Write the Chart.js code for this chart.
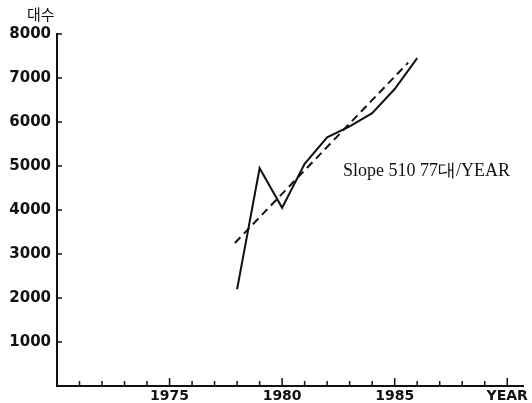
<!DOCTYPE html>
<html>
<head>
<meta charset="utf-8">
<script src="https://cdn.jsdelivr.net/npm/chart.js@4.4.1/dist/chart.umd.min.js"></script>
<style>
  html, body { margin: 0; padding: 0; background: #fff; }
  canvas { display: block; }
</style>
</head>
<body>
<canvas id="carChart" width="532" height="403"></canvas>
<script>
// data
const years = [1978, 1979, 1980, 1981, 1982, 1983, 1984, 1985, 1986];
const units = [2200, 4950, 4050, 5050, 5650, 5900, 6200, 6750, 7450];

// fitted trend line, end points
const trendYears = [1977.9, 1985.6];
const trendUnits = [3250, 7350];

const yTicks = [1000, 2000, 3000, 4000, 5000, 6000, 7000, 8000];
const xLabelYears = [1975, 1980, 1985];
const yAxisTitle = '대수';
const xAxisTitle = 'YEAR';
const slopeNote = 'Slope 510 77대/YEAR';

// little tick marks pointing into the plot + the text notes
const decorations = {
    id: 'decorations',
    afterDraw(chart) {
        const c = chart.ctx;
        const x = chart.scales.x, y = chart.scales.y;
        c.save();
        c.strokeStyle = '#111';
        c.lineWidth = 1.5;
        c.beginPath();
        for (let yr = 1971; yr <= 1990; yr++) {
            const px = x.getPixelForValue(yr);
            const len = yr % 5 === 0 ? 8 : 5;
            c.moveTo(px, y.bottom);
            c.lineTo(px, y.bottom - len);
        }
        yTicks.forEach(v => {
            const py = y.getPixelForValue(v);
            c.moveTo(x.left, py);
            c.lineTo(x.left + 5, py);
        });
        c.stroke();

        c.fillStyle = '#111';
        c.textBaseline = 'middle';
        c.textAlign = 'left';
        c.font = '15px "Noto Sans CJK KR"';
        c.fillText(yAxisTitle, 27, 14);
        c.font = '18px "Liberation Serif"';
        c.fillText(slopeNote, 343, 171);
        c.restore();
    }
};

const ctx = document.getElementById('carChart').getContext('2d');

let carChart = new Chart(ctx, {
    type: 'line',
    data: {
        datasets: [{
            data: years.map((yr, i) => ({ x: yr, y: units[i] })),
            borderColor: '#111',
            borderWidth: 2,
            pointRadius: 0,
            tension: 0
        }, {
            data: trendYears.map((yr, i) => ({ x: yr, y: trendUnits[i] })),
            borderColor: '#111',
            borderWidth: 2,
            borderDash: [8, 5],
            pointRadius: 0
        }]
    },
    options: {
        responsive: false,
        animation: false,
        layout: { padding: { top: 34, right: 9, left: 0, bottom: 0 } },
        plugins: {
            legend: { display: false },
            tooltip: { enabled: false }
        },
        scales: {
            x: {
                type: 'linear',
                min: 1970,
                max: 1990.7,
                afterFit: s => { s.height = 17; },
                afterBuildTicks: s => {
                    const t = [];
                    for (let yr = 1970; yr <= 1990; yr++) t.push({ value: yr });
                    s.ticks = t;
                },
                grid: { display: false, tickLength: 0 },
                border: { display: true, color: '#111', width: 2 },
                ticks: {
                    autoSkip: false,
                    maxRotation: 0,
                    padding: 2,
                    color: '#111',
                    font: { family: 'DejaVu Sans', weight: 'bold', size: 14 },
                    callback: v => v === 1990 ? xAxisTitle : (xLabelYears.includes(v) ? String(v) : '')
                }
            },
            y: {
                min: 0,
                max: 8000,
                afterFit: s => { s.width = 57; },
                grid: { display: false, tickLength: 0 },
                border: { display: true, color: '#111', width: 2 },
                ticks: {
                    stepSize: 1000,
                    padding: 6,
                    color: '#111',
                    font: { family: 'DejaVu Sans', weight: 'bold', size: 15 },
                    callback: v => v === 0 ? '' : String(v)
                }
            }
        }
    },
    plugins: [decorations]
});
</script>
</body>
</html>
